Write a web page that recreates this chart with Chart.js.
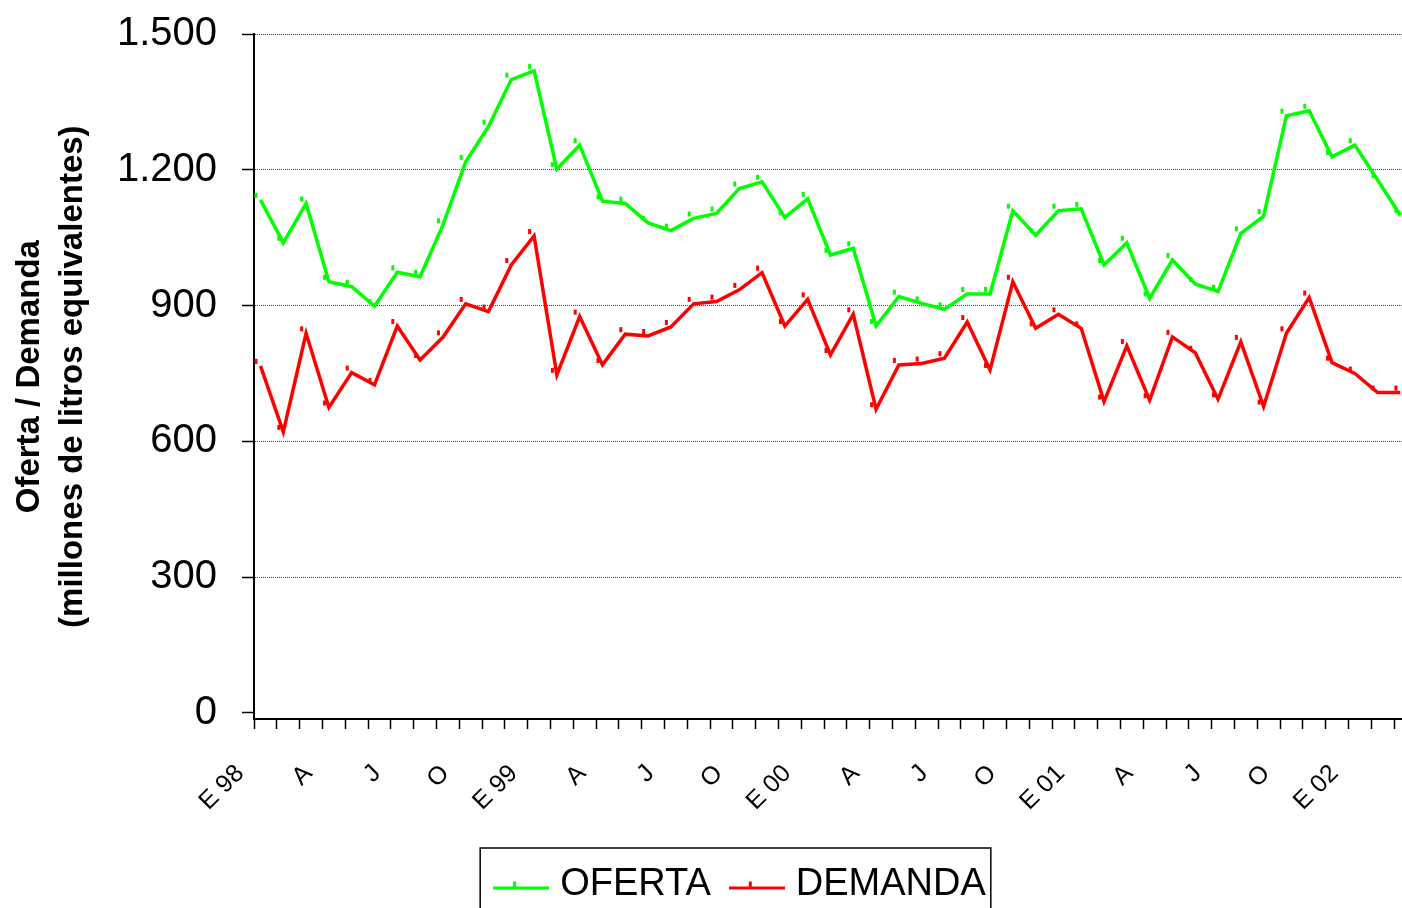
<!DOCTYPE html>
<html>
<head>
<meta charset="utf-8">
<script src="https://cdn.jsdelivr.net/npm/chart.js@4.4.1/dist/chart.umd.min.js"></script>
<style>
  html, body { margin: 0; padding: 0; background: #fff; }
  canvas { display: block; }
</style>
</head>
<body>
<canvas id="ofertaChart" width="1402" height="908"></canvas>
<script>
// monthly ticks, January 1998 .. March 2002
const tickLabels = [
  'E 98', '', '', 'A', '', '', 'J', '', '', 'O', '', '',
  'E 99', '', '', 'A', '', '', 'J', '', '', 'O', '', '',
  'E 00', '', '', 'A', '', '', 'J', '', '', 'O', '', '',
  'E 01', '', '', 'A', '', '', 'J', '', '', 'O', '', '',
  'E 02', '', ''
]

const oferta = [
  1134, 1039, 1126, 953, 942, 899, 974, 964, 1078, 1218, 1296, 1400,
  1419, 1202, 1255, 1131, 1126, 1083, 1066, 1093, 1104, 1159, 1174, 1095,
  1136, 1012, 1027, 855, 920, 905, 892, 926, 926, 1110, 1056, 1110,
  1114, 990, 1039, 916, 1001, 948, 931, 1060, 1098, 1320, 1331, 1229,
  1255, 1178, 1100
]

const demanda = [
  767, 621, 839, 675, 752, 725, 855, 780, 830, 904, 887, 990,
  1054, 747, 876, 769, 837, 833, 853, 904, 909, 935, 973, 855,
  914, 791, 881, 671, 769, 772, 784, 864, 758, 953, 850, 881,
  850, 688, 811, 691, 831, 796, 693, 820, 677, 839, 918, 774,
  750, 708, 708
]

const yTicks = [0, 300, 600, 900, 1200, 1500]

const GREEN = '#00ff00'
const RED = '#ff0000'

Chart.defaults.font.family = '"Liberation Sans", Arial, sans-serif'
Chart.defaults.color = '#000'

// little offset tick marks like the excel markers
function markerIcon(color) {
  const c = document.createElement('canvas')
  c.width = 16
  c.height = 16
  const g = c.getContext('2d')
  g.fillStyle = color
  g.fillRect(2, 1, 3, 5)
  return c
}

function legendIcon(color) {
  const c = document.createElement('canvas')
  c.width = 56
  c.height = 16
  const g = c.getContext('2d')
  g.fillStyle = color
  g.fillRect(0, 10, 56, 3)
  g.fillRect(20, 5, 3, 6)
  return c
}

const legendIcons = [legendIcon(GREEN), legendIcon(RED)]

const layoutFix = {
  id: 'layoutFix',
  afterLayout(chart) {
    // plot runs to the right edge, like the cropped original
    const area = chart.chartArea
    const x = chart.scales.x
    area.right = chart.width
    area.width = area.right - area.left
    x.right = chart.width
    x.width = x.right - x.left
    x.configure()

    const lg = chart.legend
    lg.left += 42.5
    lg.right += 42.5
    lg.top += 5.5
    lg.bottom += 5.5
  },
  afterDraw(chart) {
    // frame round the legend, open at the bottom edge
    const boxes = chart.legend.legendHitBoxes
    if (!boxes || !boxes.length) return
    const first = boxes[0]
    const last = boxes[boxes.length - 1]
    const ctx = chart.ctx
    const x1 = first.left - 21
    const x2 = last.left + last.width + 5
    const y1 = first.top - 17.5
    ctx.save()
    ctx.strokeStyle = '#000'
    ctx.lineWidth = 1.5
    ctx.beginPath()
    ctx.moveTo(x1, chart.height + 5)
    ctx.lineTo(x1, y1)
    ctx.lineTo(x2, y1)
    ctx.lineTo(x2, chart.height + 5)
    ctx.stroke()
    ctx.restore()
  }
}

new Chart(document.getElementById('ofertaChart'), {
  type: 'line',
  data: {
    datasets: [
      {
        label: 'OFERTA',
        data: oferta.map((v, i) => ({x: i, y: v})),
        borderColor: GREEN,
        backgroundColor: GREEN,
        borderWidth: 3.5,
        pointStyle: markerIcon(GREEN),
        pointRadius: 3,
        tension: 0
      },
      {
        label: 'DEMANDA',
        data: demanda.map((v, i) => ({x: i, y: v})),
        borderColor: RED,
        backgroundColor: RED,
        borderWidth: 3.5,
        pointStyle: markerIcon(RED),
        pointRadius: 3,
        tension: 0
      }
    ]
  },
  options: {
    responsive: false,
    animation: false,
    devicePixelRatio: 1,
    layout: {padding: {left: 0, right: 0, top: 34.3, bottom: 0}},
    plugins: {
      tooltip: {enabled: false},
      legend: {
        position: 'bottom',
        labels: {
          usePointStyle: true,
          pointStyleWidth: 40,
          boxHeight: 16,
          padding: 26,
          font: {size: 38},
          color: '#000',
          generateLabels: chart =>
            Chart.defaults.plugins.legend.labels.generateLabels(chart)
              .map((l, i) => ({...l, pointStyle: legendIcons[i]}))
        }
      }
    },
    scales: {
      x: {
        type: 'linear',
        min: -0.285,
        max: 50.07,
        afterBuildTicks: s => {
          s.ticks = tickLabels.map((_, i) => ({value: i - 0.28}))
        },
        afterFit: s => {
          s.height = 115
          s.paddingLeft = 0
          s.paddingRight = 0
        },
        ticks: {
          autoSkip: false,
          minRotation: 45,
          maxRotation: 45,
          padding: 30,
          labelOffset: -14,
          font: {size: 25},
          color: '#000',
          callback: (v, i) => tickLabels[i]
        },
        grid: {
          drawOnChartArea: false,
          tickLength: 10,
          tickColor: '#000',
          tickWidth: 1.5
        },
        border: {color: '#000', width: 2}
      },
      y: {
        min: -13.9,
        max: 1500,
        afterBuildTicks: s => {
          s.ticks = yTicks.map(v => ({value: v}))
        },
        afterFit: s => {
          s.width = 254
          s.paddingTop = 0
          s.paddingBottom = 0
        },
        ticks: {
          padding: 25,
          font: {size: 40},
          color: '#000',
          callback: v => String(v).replace(/\B(?=(\d{3})+(?!\d))/g, '.')
        },
        grid: {
          color: c => (c.tick && c.tick.value === 0) ? 'rgba(0,0,0,0)' : '#444',
          lineWidth: 1,
          tickLength: 12,
          tickColor: '#000',
          tickWidth: 1.5,
          tickBorderDash: []
        },
        border: {color: '#000', width: 2, dash: [1, 1]},
        title: {
          display: true,
          text: ['Oferta / Demanda', '(millones de litros equivalentes)'],
          font: {size: 33, weight: 'bold', lineHeight: 1.3},
          color: '#000',
          padding: {top: 8.5, bottom: 0}
        }
      }
    }
  },
  plugins: [layoutFix]
})
</script>
</body>
</html>
